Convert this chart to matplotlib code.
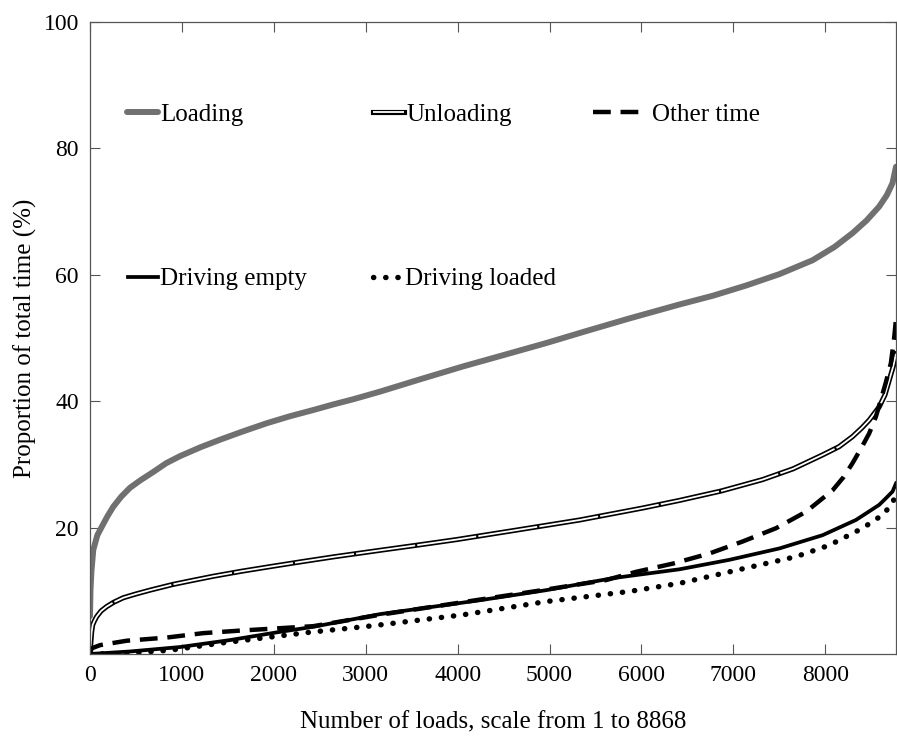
import matplotlib
matplotlib.use("Agg")
import matplotlib.pyplot as plt
from matplotlib.legend import Legend
from matplotlib.legend_handler import HandlerTuple

plt.rcParams['font.family'] = ['Liberation Serif', 'DejaVu Serif']

# values (load rank -> % of total time)
load_x = [0, 5, 15, 36, 80, 127, 190, 253, 340, 435, 550, 688, 830, 978, 1200, 1413,
          1660, 1920, 2170, 2428, 2650, 2862, 3152, 3600, 4058, 4500, 4964, 5400,
          5870, 6413, 6780, 7138, 7500, 7862, 8100, 8297, 8450, 8587, 8670, 8732, 8770]
load_y = [6, 10, 13, 16.5, 18.8, 20.1, 21.8, 23.3, 24.9, 26.3, 27.5, 28.8, 30.2, 31.3,
          32.7, 33.9, 35.2, 36.5, 37.6, 38.6, 39.5, 40.3, 41.5, 43.5, 45.5, 47.3, 49.2,
          51.1, 53.1, 55.3, 56.7, 58.3, 60.1, 62.3, 64.4, 66.6, 68.6, 70.8, 72.6, 74.5, 77.1]

unload_x = [0, 10, 18, 29, 50, 72, 120, 181, 260, 362, 500, 652, 900, 1100, 1340, 1650,
            1993, 2300, 2663, 3152, 3550, 3986, 4638, 5326, 6014, 6413, 6870, 7319,
            7650, 7971, 8150, 8297, 8400, 8478, 8587, 8650, 8700, 8740, 8770]
unload_y = [0, 2.0, 3.5, 4.6, 5.3, 5.9, 6.8, 7.5, 8.2, 8.9, 9.5, 10.1, 11.0, 11.6, 12.3,
            13.1, 13.9, 14.6, 15.4, 16.4, 17.2, 18.1, 19.6, 21.2, 23.1, 24.3, 25.8, 27.6,
            29.3, 31.5, 32.8, 34.4, 35.8, 37.0, 39.1, 41.0, 43.5, 45.5, 47.5]

other_x = [0, 18, 109, 399, 833, 1232, 1630, 2428, 3152, 4239, 4964, 5616, 5942, 6341,
           6739, 7101, 7464, 7790, 8080, 8200, 8297, 8400, 8478, 8550, 8605, 8660,
           8714, 8750, 8770]
other_y = [0, 0.9, 1.4, 2.1, 2.6, 3.3, 3.7, 4.4, 6.2, 8.6, 10.2, 11.7, 13.0, 14.3,
           15.9, 17.8, 19.9, 22.5, 25.9, 28.0, 30.2, 32.8, 34.9, 37.5, 40.2, 43.0,
           46.0, 50.0, 53.0]

empty_x = [0, 435, 978, 1522, 2065, 2428, 3152, 4239, 4964, 5688, 6413, 6957, 7500,
           7971, 8333, 8450, 8587, 8650, 8732, 8770]
empty_y = [0, 0.4, 1.1, 2.2, 3.5, 4.3, 6.3, 8.5, 10.1, 12.0, 13.4, 14.9, 16.7,
           18.8, 21.2, 22.3, 23.6, 24.5, 25.7, 27.0]

loaded_x = [0, 400, 870, 1413, 2029, 2428, 2970, 3152, 4058, 4964, 5870, 6420, 7138,
            7681, 8043, 8406, 8623, 8732, 8770]
loaded_y = [0, 0.1, 0.6, 1.7, 2.8, 3.5, 4.3, 4.6, 6.2, 8.3, 9.9, 11.2, 13.6,
            15.4, 17.2, 19.9, 22.0, 23.8, 25.5]

x_ticks = [0, 1000, 2000, 3000, 4000, 5000, 6000, 7000, 8000]
y_ticks = [20, 40, 60, 80, 100]

fig = plt.figure(figsize=(8.97, 7.38), dpi=100)
ax = fig.add_axes([90/897, 84/738, 806/897, 632/738])

l_load, = ax.plot(load_x, load_y, color='#707070', lw=4.3, solid_capstyle='round')
u_out, = ax.plot(unload_x, unload_y, color='black', lw=3.7)
u_in, = ax.plot(unload_x, unload_y, color='white', lw=1.3, dashes=(33, 1.2))
l_other, = ax.plot(other_x, other_y, color='black', lw=3.2, dashes=(4, 2.2))
l_empty, = ax.plot(empty_x, empty_y, color='black', lw=2.7)
l_loaded, = ax.plot(loaded_x, loaded_y, color='black', lw=3.9,
                    dashes=(0.05, 2.2), dash_capstyle='round')

ax.set_xlim(0, 8770)
ax.set_ylim(0, 100)
ax.set_xticks(x_ticks)
ax.set_yticks(y_ticks)
ax.tick_params(direction='in', top=True, right=True, length=7, width=0.8,
               color='#555555', labelsize=17, pad=8)
for s in ax.spines.values():
    s.set_color('#555555')
    s.set_linewidth(0.9)

ax.set_xlabel('Number of loads, scale from 1 to 8868', fontsize=18, labelpad=18)
ax.set_ylabel('Proportion of total time (%)', fontsize=18, labelpad=5)

# one small legend per entry, placed like the original
entries = [
    (l_load, 'Loading', 0.046, 0.854, 1.25, 0.08),
    ((u_out, u_in), 'Unloading', 0.351, 0.854, 1.25, 0.08),
    (l_other, 'Other time', 0.624, 0.854, 1.9, 0.45),
    (l_empty, 'Driving empty', 0.047, 0.593, 1.2, 0.08),
    (l_loaded, 'Driving loaded', 0.351, 0.593, 1.2, 0.08),
]
for h, lab, bx, by, hl, tp in entries:
    leg = Legend(ax, [h], [lab], loc='center left', bbox_to_anchor=(bx, by),
                 frameon=False, fontsize=18, borderpad=0, borderaxespad=0,
                 handlelength=hl, handletextpad=tp,
                 handler_map={tuple: HandlerTuple(ndivide=1)})
    ax.add_artist(leg)

fig.savefig('out.png', dpi=100)
